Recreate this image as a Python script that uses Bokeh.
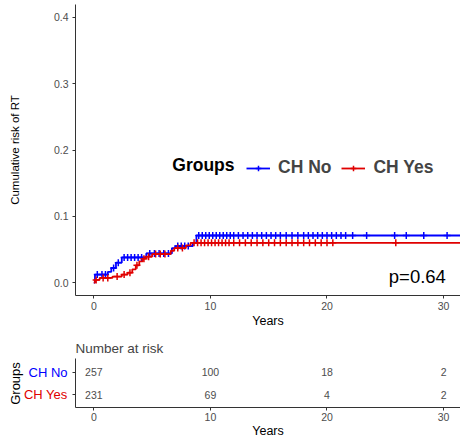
import numpy as np
from bokeh.plotting import figure
from bokeh.layouts import column, row
from bokeh.models import (Legend, LegendItem, Label, FixedTicker, Range1d,
                          PrintfTickFormatter, ColumnDataSource)
from bokeh.core.properties import value
from bokeh.embed import file_html
from bokeh.resources import INLINE

FONT = "Liberation Sans"

groups = ["CH No", "CH Yes"]
colors = ["#0000FF", "#E00000"]

# cumulative incidence step curves (event times, cumulative risk after event)
no_event_t = [0.1, 1.2, 1.5, 1.9, 2.4, 4.5, 6.7, 7.0, 8.5, 8.8]
no_event_v = [0.012, 0.016, 0.022, 0.030, 0.038, 0.044, 0.052, 0.055, 0.060, 0.071]
yes_event_t = [0.1, 0.5, 1.6, 2.4, 2.9, 3.3, 3.6, 3.9, 4.2, 4.5, 5.0, 6.6, 6.9, 7.9, 8.3]
yes_event_v = [0.004, 0.007, 0.009, 0.012, 0.015, 0.020, 0.026, 0.032, 0.036, 0.039,
               0.043, 0.048, 0.052, 0.056, 0.060]
end_time = [31.5, 31.5]

# censoring times
no_censor_t = [0.3, 0.7, 1.0, 1.7, 2.1, 2.6, 2.9, 3.2, 3.5, 3.8, 4.1, 4.8, 5.2, 5.6, 6.0,
               6.4, 7.2, 7.5, 7.8, 8.1, 9.0, 9.3, 9.6, 9.9, 10.2, 10.5, 10.8, 11.1, 11.4,
               11.7, 12.0, 12.4, 12.8, 13.2, 13.6, 14.0, 14.4, 14.8, 15.2, 15.6, 16.0,
               16.5, 17.0, 17.5, 18.0, 18.4, 18.8, 19.2, 19.6, 20.0, 20.4, 20.8, 21.2,
               21.6, 22.2, 23.4, 25.8, 26.8, 28.3, 30.3]
yes_censor_t = [0.2, 0.8, 1.2, 2.0, 2.6, 3.1, 3.7, 4.3, 4.7, 5.3, 5.7, 6.1, 7.2, 7.6, 8.6,
                8.9, 9.2, 9.5, 9.8, 10.1, 10.4, 10.7, 11.0, 11.3, 11.6, 12.0, 12.5, 13.0,
                13.5, 14.0, 14.5, 15.0, 15.5, 16.0, 16.5, 17.0, 17.5, 18.0, 18.5, 19.0,
                19.5, 20.0, 20.5, 25.9]

# number at risk table
risk_times = [0, 10, 20, 30]
risk_no = [257, 100, 18, 2]
risk_yes = [231, 69, 4, 2]

x_ticks = [0, 10, 20, 30]
y_ticks = [0.0, 0.1, 0.2, 0.3, 0.4]
p_text = "p=0.64"

AX = "#333333"
TL = "#4D4D4D"
X_RANGE = (-1.57, 31.45)


def style_axes(fig):
    for ax in fig.axis:
        ax.axis_line_color = AX
        ax.axis_line_width = 1
        ax.major_tick_line_color = AX
        ax.major_tick_out = 3
        ax.major_tick_in = 0
        ax.minor_tick_line_color = None
        ax.major_label_text_font = FONT
        ax.major_label_text_font_size = "10.5px"
        ax.major_label_text_color = TL
        ax.axis_label_text_font = FONT
        ax.axis_label_text_font_style = "normal"
        ax.axis_label_text_color = "black"
    fig.xgrid.visible = False
    fig.ygrid.visible = False
    fig.outline_line_color = None


p = figure(width=460, height=330, x_range=Range1d(*X_RANGE),
           y_range=Range1d(-0.0195, 0.4195), output_backend="svg",
           toolbar_location=None, min_border_left=75, min_border_right=0,
           min_border_top=4, min_border_bottom=34)
style_axes(p)
p.xaxis.ticker = FixedTicker(ticks=x_ticks)
p.yaxis.ticker = FixedTicker(ticks=y_ticks)
p.yaxis.formatter = PrintfTickFormatter(format="%.1f")
p.xaxis.axis_label = "Years"
p.yaxis.axis_label = "Cumulative risk of RT"
p.xaxis.axis_label_text_font_size = "12.5px"
p.yaxis.axis_label_text_font_size = "11.5px"
p.xaxis.major_label_standoff = 3
p.xaxis.axis_label_standoff = 1
p.yaxis.major_label_standoff = 4
p.yaxis.axis_label_standoff = 30

items = []
for ev_t, ev_v, cen_t, col, name, tend in [
        (no_event_t, no_event_v, no_censor_t, colors[0], groups[0], end_time[0]),
        (yes_event_t, yes_event_v, yes_censor_t, colors[1], groups[1], end_time[1])]:
    xs = [0.0] + list(ev_t) + [tend]
    ys = [0.0] + list(ev_v) + [ev_v[-1]]
    ln = p.step(xs, ys, mode="after", line_color=col, line_width=1.8)
    idx = np.searchsorted(np.array(ev_t), np.array(cen_t), side="right")
    cy = [0.0 if i == 0 else ev_v[i - 1] for i in idx]
    mk = p.scatter(cen_t, cy, marker="cross", size=7, line_width=1.5,
                   line_color=col)
    items.append(LegendItem(label=name, renderers=[ln, mk]))

legend = Legend(items=items, orientation="horizontal", location=(167, 113),
                background_fill_alpha=0, border_line_alpha=0,
                label_text_font=FONT, label_text_font_style="bold",
                label_text_font_size="17.5px", glyph_width=24, glyph_height=14,
                spacing=10, padding=4, margin=0, label_standoff=8)
p.add_layout(legend)

p.add_layout(Label(x=6.73, y=0.1775, text="Groups", text_font=FONT,
                   text_font_style="bold", text_font_size="17.5px",
                   text_baseline="middle", text_align="left", text_color="black"))

p.text(x=[25.3], y=[0.009], text=[p_text], text_font=value(FONT),
       text_font_size="18.5px", text_baseline="middle", text_align="left",
       text_color="black")

# ---- risk table: left label strip + table body ----
TH = 110
TOP, BOT = 28, 32
row_top_px, row_gap_px = 14, 23
y_hi = 2 + row_top_px / row_gap_px
y_lo = y_hi - (TH - TOP - BOT) / row_gap_px

LW = 72
t = figure(width=460 - LW, height=TH, x_range=Range1d(*X_RANGE),
           y_range=Range1d(y_lo, y_hi), output_backend="svg",
           toolbar_location=None, min_border_left=3, min_border_right=0,
           min_border_top=TOP, min_border_bottom=BOT, title="Number at risk")
style_axes(t)
t.title.text_font = FONT
t.title.text_font_size = "13.5px"
t.title.text_font_style = "normal"
t.title.standoff = 5
t.xaxis.ticker = FixedTicker(ticks=x_ticks)
t.yaxis.ticker = FixedTicker(ticks=[1, 2])
t.yaxis.major_label_overrides = {1: "", 2: ""}
t.yaxis.major_label_standoff = 0
t.xaxis.axis_label = "Years"
t.xaxis.axis_label_text_font_size = "12.5px"
t.xaxis.major_label_standoff = 2
t.xaxis.axis_label_standoff = 0

src = ColumnDataSource(dict(
    x=risk_times + risk_times,
    y=[2] * len(risk_no) + [1] * len(risk_yes),
    txt=[str(v) for v in risk_no] + [str(v) for v in risk_yes]))
t.text(x="x", y="y", text="txt", source=src, text_font=value(FONT),
       text_font_size="10.5px", text_color=TL, text_align="center",
       text_baseline="middle")

# label strip: its frame is aligned with the table frame by the row layout,
# so it shares the same row positions (y range)
lab = figure(width=LW, height=TH, x_range=Range1d(0, LW),
             y_range=Range1d(y_lo, y_hi), output_backend="svg",
             toolbar_location=None, min_border_left=0, min_border_right=0,
             min_border_top=TOP, min_border_bottom=BOT,
             x_axis_location=None, y_axis_location=None)
lab.xgrid.visible = False
lab.ygrid.visible = False
lab.outline_line_color = None
lab.text(x=[LW - 5, LW - 5], y=[2, 1], text=groups,
         text_color=colors, text_font=value(FONT), text_font_size="13px",
         text_align="right", text_baseline="middle")
lab.text(x=[15], y=[1.5], text=["Groups"], angle=np.pi / 2,
         text_color="black", text_font=value(FONT), text_font_size="13px",
         text_align="center", text_baseline="middle")

layout = column(p, row(lab, t))
open("out.html", "w").write(file_html(layout, INLINE))
